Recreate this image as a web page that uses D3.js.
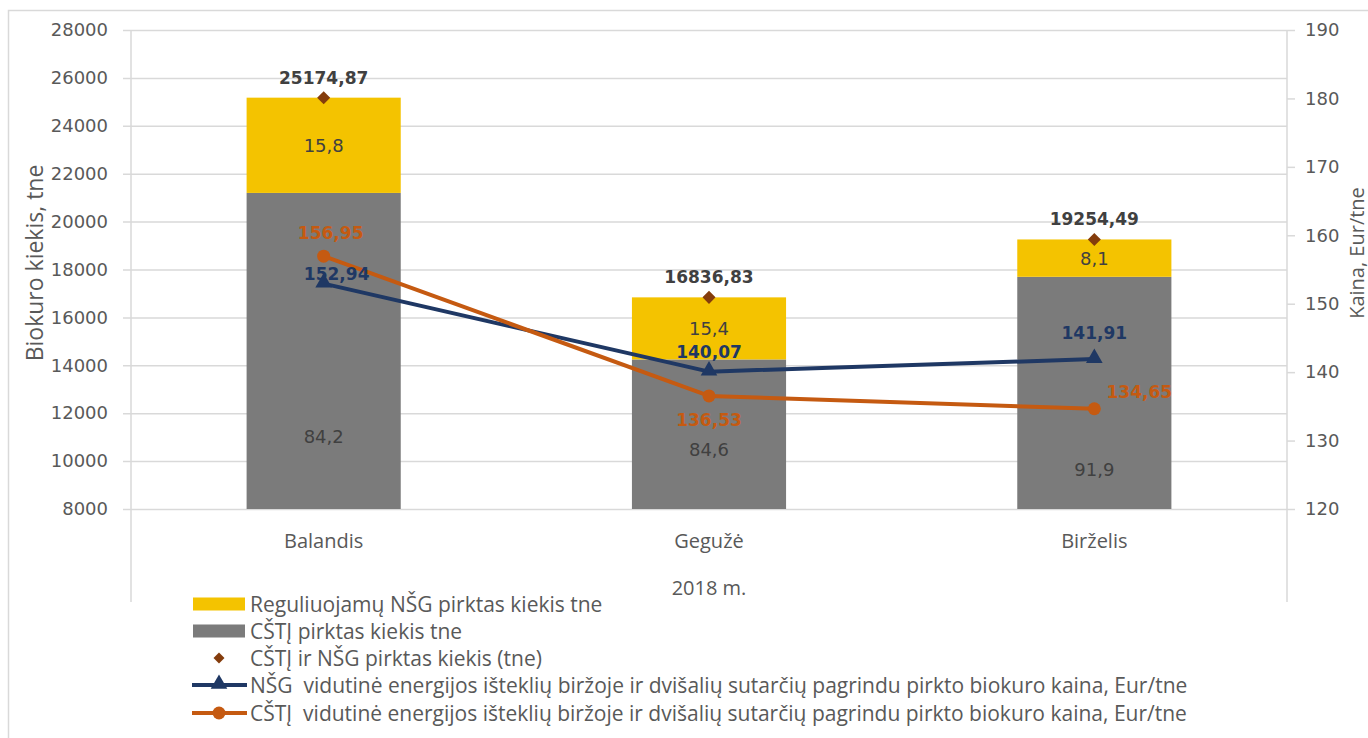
<!DOCTYPE html>
<html>
<head>
<meta charset="utf-8">
<script src="https://cdn.jsdelivr.net/npm/d3@7"></script>
<style>
  body { margin: 0; background: #fff; }
  svg { display: block; }
</style>
</head>
<body>
<svg id="chart" width="1368" height="738"></svg>
<script>
// data
const months = ['Balandis', 'Gegužė', 'Birželis']
const cstjKiekis = [21197.24, 14243.96, 17694.88]
const nsgKiekis = [3977.63, 2592.87, 1559.61]
const visoKiekis = [25174.87, 16836.83, 19254.49]
const cstjPct = ['84,2', '84,6', '91,9']
const nsgPct = ['15,8', '15,4', '8,1']
const nsgKaina = [152.94, 140.07, 141.91]
const cstjKaina = [156.95, 136.53, 134.65]
const leftTicks = [8000, 10000, 12000, 14000, 16000, 18000, 20000, 22000, 24000, 26000, 28000]
const rightTicks = [120, 130, 140, 150, 160, 170, 180, 190]

const legendItems = [
  'Reguliuojamų NŠG pirktas kiekis tne',
  'CŠTĮ pirktas kiekis tne',
  'CŠTĮ ir NŠG pirktas kiekis (tne)',
  'NŠG  vidutinė energijos išteklių biržoje ir dvišalių sutarčių pagrindu pirkto biokuro kaina, Eur/tne',
  'CŠTĮ  vidutinė energijos išteklių biržoje ir dvišalių sutarčių pagrindu pirkto biokuro kaina, Eur/tne'
]

// colours
const YELLOW = '#F4C300'
const GREY = '#7B7B7B'
const DIAMOND = '#843C0C'
const NAVY = '#1F3864'
const ORANGE = '#C55A11'
const TXT = '#595959'
const DARK = '#404040'
const GRID = '#D9D9D9'

const wideFont = '"DejaVu Sans", sans-serif'
const narrowFont = '"Open Sans", sans-serif'

const svg = d3.select('#chart')
svg.append('rect').attr('width', 1368).attr('height', 738).attr('fill', '#fff')
svg.append('rect')
  .attr('x', 8.5).attr('y', 10.5)
  .attr('width', 1370).attr('height', 740)
  .attr('fill', 'none').attr('stroke', GRID).attr('stroke-width', 1.5)

const plotLeft = 131
const plotRight = 1287
const plotTop = 30
const plotBottom = 509

const x = d3.scaleBand().domain(months).range([plotLeft, plotRight])
  .paddingInner(0.6).paddingOuter(0.3)
const cx = m => x(m) + x.bandwidth() / 2
const yL = d3.scaleLinear().domain([8000, 28000]).range([plotBottom, plotTop])
const yR = d3.scaleLinear().domain([120, 190]).range([plotBottom, plotTop])

// left axis + gridlines
const gLeft = svg.append('g')
  .attr('transform', `translate(${plotLeft - 8},0)`)
  .call(d3.axisLeft(yL).tickValues(leftTicks).tickSize(-(plotRight - plotLeft + 8)).tickPadding(15).tickFormat(d3.format('d')))
gLeft.select('.domain').remove()
gLeft.selectAll('.tick line').attr('stroke', GRID).attr('stroke-width', 1.5)
gLeft.selectAll('.tick text')
  .attr('fill', TXT).attr('font-family', wideFont).attr('font-size', 18)

// right axis
const gRight = svg.append('g')
  .attr('transform', `translate(${plotRight},0)`)
  .call(d3.axisRight(yR).tickValues(rightTicks).tickSize(8).tickPadding(10))
gRight.select('.domain').remove()
gRight.selectAll('.tick line').attr('stroke', GRID).attr('stroke-width', 1.5)
gRight.selectAll('.tick text')
  .attr('fill', TXT).attr('font-family', wideFont).attr('font-size', 18)

// vertical axis lines run down past the category labels
;[plotLeft, plotRight].forEach(xx => {
  svg.append('line')
    .attr('x1', xx).attr('x2', xx).attr('y1', plotTop).attr('y2', 602)
    .attr('stroke', GRID).attr('stroke-width', 1.5)
})

// axis titles
svg.append('text')
  .attr('transform', 'translate(34,263) rotate(-90)')
  .attr('text-anchor', 'middle').attr('dominant-baseline', 'central')
  .attr('font-family', narrowFont).attr('font-size', 23).attr('fill', TXT)
  .text('Biokuro kiekis, tne')
svg.append('text')
  .attr('transform', 'translate(1356,253) rotate(-90)')
  .attr('text-anchor', 'middle').attr('dominant-baseline', 'central')
  .attr('font-family', narrowFont).attr('font-size', 20).attr('fill', TXT)
  .text('Kaina, Eur/tne')

// stacked bars
const rows = months.map((m, i) => ({ month: m, cstj: cstjKiekis[i], nsg: nsgKiekis[i] }))
const stacked = d3.stack().keys(['cstj', 'nsg'])(rows)
const barColors = { cstj: GREY, nsg: YELLOW }
svg.append('g').selectAll('g')
  .data(stacked)
  .join('g')
  .attr('fill', d => barColors[d.key])
  .selectAll('rect')
  .data(d => d)
  .join('rect')
  .attr('x', d => x(d.data.month))
  .attr('width', x.bandwidth())
  .attr('y', d => yL(d[1]))
  .attr('height', d => yL(Math.max(d[0], 8000)) - yL(d[1]))

// segment labels
const greyLabelDy = [86, 15, 77]
months.forEach((m, i) => {
  const y0 = yL(8000)
  const y1 = yL(cstjKiekis[i])
  const y2 = yL(cstjKiekis[i] + nsgKiekis[i])
  svg.append('text')
    .attr('x', cx(m)).attr('y', (y1 + y2) / 2)
    .attr('text-anchor', 'middle').attr('dominant-baseline', 'central')
    .attr('font-family', wideFont).attr('font-size', 18).attr('fill', DARK)
    .text(nsgPct[i])
  svg.append('text')
    .attr('x', cx(m)).attr('y', (y0 + y1) / 2 + greyLabelDy[i])
    .attr('text-anchor', 'middle').attr('dominant-baseline', 'central')
    .attr('font-family', wideFont).attr('font-size', 18).attr('fill', DARK)
    .text(cstjPct[i])
})

// category labels
svg.append('g').selectAll('text')
  .data(months)
  .join('text')
  .attr('x', d => cx(d)).attr('y', 540)
  .attr('text-anchor', 'middle').attr('dominant-baseline', 'central')
  .attr('font-family', narrowFont).attr('font-size', 20).attr('fill', TXT)
  .text(d => d)
svg.append('text')
  .attr('x', cx(months[1])).attr('y', 587)
  .attr('text-anchor', 'middle').attr('dominant-baseline', 'central')
  .attr('font-family', narrowFont).attr('font-size', 20).attr('fill', TXT)
  .text('2018 m.')

// lines
const line = d3.line().x((d, i) => cx(months[i])).y(d => yR(d))
svg.append('path').datum(nsgKaina)
  .attr('d', line).attr('fill', 'none').attr('stroke', NAVY).attr('stroke-width', 4)
  .attr('stroke-linejoin', 'round')
svg.append('path').datum(cstjKaina)
  .attr('d', line).attr('fill', 'none').attr('stroke', ORANGE).attr('stroke-width', 4)
  .attr('stroke-linejoin', 'round')

const triangle = d3.symbol(d3.symbolTriangle, 120)
const diamond = d3.symbol(d3.symbolSquare, 85)

svg.append('g').selectAll('path')
  .data(nsgKaina)
  .join('path')
  .attr('d', triangle)
  .attr('transform', (d, i) => `translate(${cx(months[i])},${yR(d) - 1})`)
  .attr('fill', NAVY)
svg.append('g').selectAll('circle')
  .data(cstjKaina)
  .join('circle')
  .attr('cx', (d, i) => cx(months[i])).attr('cy', d => yR(d))
  .attr('r', 6.5).attr('fill', ORANGE)

// total diamonds
svg.append('g').selectAll('path')
  .data(visoKiekis)
  .join('path')
  .attr('d', diamond)
  .attr('transform', (d, i) => `translate(${cx(months[i])},${yL(d)}) rotate(45)`)
  .attr('fill', DIAMOND)

const fmt = v => d3.format('.2f')(v).replace('.', ',')

// total labels
svg.append('g').selectAll('text')
  .data(visoKiekis)
  .join('text')
  .attr('x', (d, i) => cx(months[i])).attr('y', d => yL(d) - 20)
  .attr('text-anchor', 'middle').attr('dominant-baseline', 'central')
  .attr('font-family', wideFont).attr('font-size', 17).attr('font-weight', 'bold').attr('fill', DARK)
  .text(d => fmt(d))

// line labels (offsets from point)
const nsgLabelOff = [[13, -10], [0, -20], [0, -26]]
const cstjLabelOff = [[7, -23], [0, 24], [45, -17]]
svg.append('g').selectAll('text')
  .data(nsgKaina)
  .join('text')
  .attr('x', (d, i) => cx(months[i]) + nsgLabelOff[i][0]).attr('y', (d, i) => yR(d) + nsgLabelOff[i][1])
  .attr('text-anchor', 'middle').attr('dominant-baseline', 'central')
  .attr('font-family', wideFont).attr('font-size', 17).attr('font-weight', 'bold').attr('fill', NAVY)
  .text(d => fmt(d))
svg.append('g').selectAll('text')
  .data(cstjKaina)
  .join('text')
  .attr('x', (d, i) => cx(months[i]) + cstjLabelOff[i][0]).attr('y', (d, i) => yR(d) + cstjLabelOff[i][1])
  .attr('text-anchor', 'middle').attr('dominant-baseline', 'central')
  .attr('font-family', wideFont).attr('font-size', 17).attr('font-weight', 'bold').attr('fill', ORANGE)
  .text(d => fmt(d))

// legend
const legend = svg.append('g')
const legY = [604, 631, 658, 685, 713]
legend.selectAll('text')
  .data(legendItems)
  .join('text')
  .attr('x', 250).attr('y', (d, i) => legY[i])
  .attr('dominant-baseline', 'central')
  .style('white-space', 'pre')
  .attr('font-family', narrowFont).attr('font-size', 21).attr('fill', TXT)
  .text(d => d)
legend.append('rect').attr('x', 193).attr('y', legY[0] - 6.5).attr('width', 52).attr('height', 13).attr('fill', YELLOW)
legend.append('rect').attr('x', 193).attr('y', legY[1] - 6.5).attr('width', 52).attr('height', 13).attr('fill', GREY)
legend.append('path').attr('d', d3.symbol(d3.symbolSquare, 60)).attr('transform', `translate(219,${legY[2]}) rotate(45)`).attr('fill', DIAMOND)
legend.append('line').attr('x1', 192).attr('x2', 247).attr('y1', legY[3]).attr('y2', legY[3])
  .attr('stroke', NAVY).attr('stroke-width', 4)
legend.append('path').attr('d', triangle).attr('transform', `translate(219,${legY[3] - 1})`).attr('fill', NAVY)
legend.append('line').attr('x1', 192).attr('x2', 247).attr('y1', legY[4]).attr('y2', legY[4])
  .attr('stroke', ORANGE).attr('stroke-width', 4)
legend.append('circle').attr('cx', 219).attr('cy', legY[4]).attr('r', 6.5).attr('fill', ORANGE)
</script>
</body>
</html>
